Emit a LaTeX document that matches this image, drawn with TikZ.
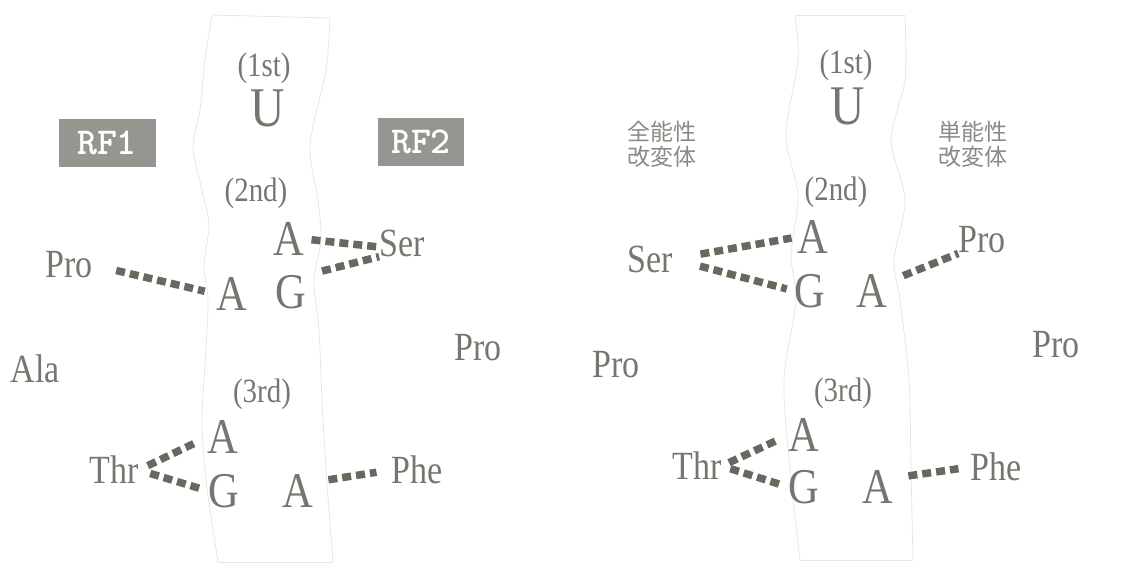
\documentclass[tikz,border=0pt]{standalone}
\usepackage{fontspec}
\setmainfont{Liberation Serif}[FakeStretch=0.85]
\newfontfamily\jpfont{Noto Sans CJK JP}
\usepackage{tikz}
\definecolor{txtgray}{RGB}{118,118,110}
\definecolor{bondgray}{RGB}{104,104,94}
\definecolor{rfgray}{RGB}{150,150,145}
\definecolor{stripgray}{RGB}{230,230,226}

\begin{document}
\begin{tikzpicture}[x=1pt,y=-1pt,
  baselet/.style={font=\fontsize{50}{50}\selectfont,text=txtgray,inner sep=0pt},
  firstlet/.style={font=\fontsize{56}{56}\selectfont,text=txtgray,inner sep=0pt},
  poslabel/.style={font=\fontsize{34}{34}\selectfont,text=txtgray,inner sep=0pt},
  amino/.style={font=\fontsize{40}{40}\selectfont,text=txtgray,inner sep=0pt},
  mutant/.style={font=\jpfont\fontsize{23}{25}\selectfont,text=txtgray!85,inner sep=0pt,align=center},
  rfbox/.style={fill=rfgray,text=white,font=\ttfamily\bfseries\fontsize{38}{38}\selectfont,minimum height=48pt,inner sep=0pt},
  bond/.style={bondgray,line width=7.5pt,dash pattern=on 9pt off 5pt},
  strip/.style={stripgray,line width=0.8pt}]
  \useasboundingbox (0,0) rectangle (1125,571);
  % wavy strips (codon columns)
  \draw[strip] plot[smooth] coordinates {(212,15) (205,60) (200,110) (193,148) (202,190) (209,225) (204,265) (208,300) (206,350) (202,420) (206,480) (218,562)};
  \draw[strip] plot[smooth] coordinates {(330,18) (326,70) (310,145) (318,200) (321,240) (314,280) (319,330) (322,400) (326,470) (333,562)};
  \draw[strip] (212,15) -- (330,18);
  \draw[strip] (218,562) -- (333,562);
  \draw[strip] plot[smooth] coordinates {(795,15) (798,60) (786,135) (798,195) (791,255) (796,300) (784,380) (790,470) (800,560)};
  \draw[strip] plot[smooth] coordinates {(905,15) (905,80) (891,140) (905,200) (894,260) (900,300) (909,380) (911,470) (913,560)};
  \draw[strip] (795,15) -- (905,15);
  \draw[strip] (800,560) -- (913,560);

  % left panel: reading frames
  \node[rfbox,minimum width=97pt] (rf1) at (107,143) {RF1};
  \node[rfbox,minimum width=86pt] (rf2) at (421,142) {RF2};
  \node[poslabel] (first1) at (264,68) {(1st)};
  \node[firstlet] (u1) at (268,108) {U};
  \node[poslabel] (second1) at (256,193) {(2nd)};
  \node[baselet] (a2) at (289,239) {A};
  \node[baselet] (a1) at (232,294) {A};
  \node[baselet] (g1) at (291,292) {G};
  \node[amino] (pro1) at (69,265) {Pro};
  \node[amino] (ser1) at (402,243) {Ser};
  \node[amino] (pro3) at (478,348) {Pro};
  \node[amino] (ala1) at (35,369) {Ala};
  \node[poslabel] (third1) at (262,394) {(3rd)};
  \node[baselet] (a3) at (223,437) {A};
  \node[baselet] (g2) at (224,491) {G};
  \node[baselet] (a4) at (298,491) {A};
  \node[amino] (thr1) at (114,470) {Thr};
  \node[amino] (phe1) at (417,470) {Phe};
  \draw[bond,shorten <=24pt,shorten >=12pt] (pro1.east) -- (a1.west);
  \draw[bond,shorten <=7pt,shorten >=1pt] (a2.east) -- ([yshift=-4pt]ser1.west);
  \draw[bond,shorten <=16pt] (g1.north east) -- (ser1.south west);
  \draw[bond,shorten <=10pt,shorten >=12pt] (thr1.east) -- (a3.west);
  \draw[bond,shorten <=12pt,shorten >=6pt] (thr1.east) -- (g2.west);
  \draw[bond,shorten <=15pt,shorten >=15pt] (a4.30) -- (phe1.west);

  % right panel: mutants
  \node[mutant] (omni) at (662,144) {全能性\\改変体};
  \node[mutant] (uni) at (973,144) {単能性\\改変体};
  \node[poslabel] (first2) at (846,65) {(1st)};
  \node[firstlet] (u2) at (848,106) {U};
  \node[poslabel] (second2) at (836,192) {(2nd)};
  \node[baselet] (a5) at (813,237) {A};
  \node[baselet] (g3) at (810,291) {G};
  \node[baselet] (a6) at (872,291) {A};
  \node[amino] (ser2) at (650,259) {Ser};
  \node[amino] (pro2) at (982,240) {Pro};
  \node[amino] (pro4) at (616,365) {Pro};
  \node[amino] (pro5) at (1056,345) {Pro};
  \node[poslabel] (third2) at (843,393) {(3rd)};
  \node[baselet] (a7) at (804,435) {A};
  \node[baselet] (g4) at (804,487) {G};
  \node[baselet] (a8) at (878,487) {A};
  \node[amino] (thr2) at (697,466) {Thr};
  \node[amino] (phe2) at (996,467) {Phe};
  \draw[bond,shorten <=28pt,shorten >=6pt] (ser2.east) -- (a5.west);
  \draw[bond,shorten <=28pt,shorten >=8pt] (ser2.east) -- (g3.west);
  \draw[bond,shorten <=17pt] (a6.30) -- (pro2.south west);
  \draw[bond,shorten <=8pt,shorten >=10pt] (thr2.east) -- (a7.west);
  \draw[bond,shorten <=9pt,shorten >=5pt] (thr2.east) -- (g4.west);
  \draw[bond,shorten <=15pt,shorten >=12pt] (a8.30) -- (phe2.west);
\end{tikzpicture}
\end{document}
